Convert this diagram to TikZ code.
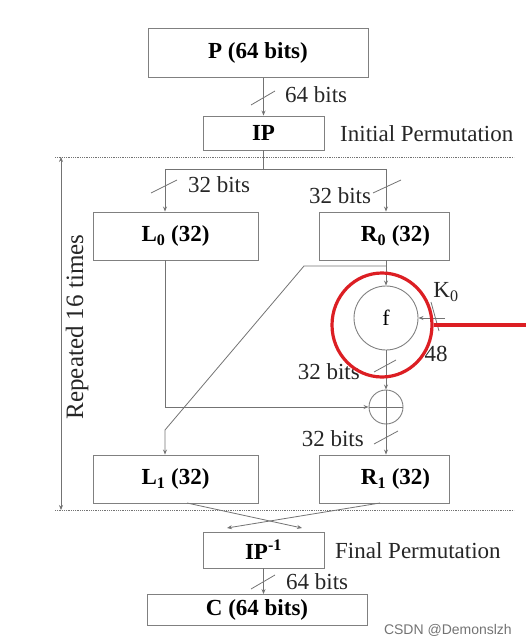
\documentclass[tikz,border=0pt]{standalone}
\usepackage{fontspec}
\setmainfont{Liberation Serif}
\newfontfamily\wmfont{Liberation Sans}
\usetikzlibrary{arrows.meta,shapes.geometric}
\definecolor{ln}{gray}{0.45}
\definecolor{bx}{gray}{0.5}
\definecolor{annred}{RGB}{220,30,35}
\begin{document}
\begin{tikzpicture}[x=1pt,y=-1pt,
  box/.style={draw=bx,line width=0.9pt,fill=white,inner sep=0pt,font=\fontsize{23}{25}\selectfont\bfseries},
  lbl/.style={inner sep=0pt,font=\fontsize{23}{25}\selectfont,text=black!85},
  conn/.style={draw=ln,line width=0.8pt},
  arr/.style={conn,-{Stealth[length=5pt,width=4pt]}},
  slash/.style={draw=ln,line width=0.8pt},
  sepline/.style={draw=ln,line width=0.8pt,densely dotted}]
\useasboundingbox (0,0) rectangle (526,644);
% boxes
\node[box,minimum width=220pt,minimum height=49pt] (P) at (258,53) {P (64 bits)};
\node[box,minimum width=121pt,minimum height=34pt] (IP) at (263.5,133) {IP};
\node[lbl,anchor=west] (ipl) at (340,134) {Initial Permutation};
\node[box,minimum width=165pt,minimum height=48pt] (L0) at (175.5,236) {L\textsubscript{0} (32)};
\node[box,minimum width=130pt,minimum height=48pt] (R0) at (384,236) {\quad R\textsubscript{0} (32)};
\node[box,minimum width=165pt,minimum height=48pt] (L1) at (175.5,479) {L\textsubscript{1} (32)};
\node[box,minimum width=130pt,minimum height=48pt] (R1) at (384,479) {\quad R\textsubscript{1} (32)};
\node[box,minimum width=121pt,minimum height=36pt] (IPi) at (263.5,550) {IP\textsuperscript{-1}};
\node[lbl,anchor=west] (fpl) at (335,551) {Final Permutation};
\node[box,minimum width=220pt,minimum height=31pt] (C) at (257,610) {C (64 bits)};
\node[draw=bx,line width=0.9pt,circle,minimum size=64pt,inner sep=0pt,font=\fontsize{22}{24}\selectfont] (f) at (386,318) {f};
\node[draw=bx,line width=0.9pt,circle,minimum size=34pt,inner sep=0pt] (x) at (386,407) {};
\draw[conn] (x.north) -- (x.south) (x.west) -- (x.east);
% dashed separators and repeat arrow
\coordinate (dt1) at (55,157); \coordinate (dt2) at (514,157);
\coordinate (db1) at (55,510); \coordinate (db2) at (514,510);
\draw[sepline] (dt1) -- (dt2);
\draw[sepline] (db1) -- (db2);
\coordinate (ra) at (61,157); \coordinate (rb) at (61,510);
\draw[conn,{Stealth[length=5pt,width=4pt]}-{Stealth[length=5pt,width=4pt]}] (ra) -- (rb);
\node[lbl,rotate=90,font=\fontsize{25}{27}\selectfont] (rep) at (77,327) {Repeated 16 times};
% P -> IP
\draw[arr] (P.south -| IP.north) -- (IP.north);
\coordinate (s1a) at (251,105); \coordinate (s1b) at (275,91);
\draw[slash] (s1a) -- (s1b);
\node[lbl,anchor=west] (b64a) at (285,95) {64 bits};
% IP split
\coordinate (sp) at (263.5,169);
\coordinate (spl) at (165,169);
\coordinate (spr) at (386,169);
\draw[conn] (IP.south) -- (sp);
\draw[conn] (spl) -- (spr);
\draw[arr] (spl) -- (spl |- L0.north);
\draw[arr] (spr) -- (spr |- R0.north);
\coordinate (s2a) at (151,193); \coordinate (s2b) at (177,180);
\draw[slash] (s2a) -- (s2b);
\node[lbl] (b32a) at (219,185) {32 bits};
\coordinate (s3a) at (373,193); \coordinate (s3b) at (401,180);
\draw[slash] (s3a) -- (s3b);
\node[lbl] (b32b) at (340,196) {32 bits};
% R0 -> f and R0 -> L1
\coordinate (rt) at (386,266);
\draw[arr] (rt |- R0.south) -- (f.north);
\coordinate (rk) at (304,266);
\coordinate (rd) at (165,430);
\draw[arr] (rt) -- (rk) -- (rd) -- (rd |- L1.north);
% L0 -> xor
\coordinate (lk) at (165,407);
\draw[arr] (lk |- L0.south) -- (lk) -- (x.west);
% f -> xor
\draw[arr] (f.south) -- (x.north);
\coordinate (s4a) at (374,372); \coordinate (s4b) at (396,360);
\draw[slash] (s4a) -- (s4b);
\node[lbl,anchor=east] (b32c) at (360,372) {32 bits};
% xor -> R1
\draw[arr] (x.south) -- (x.south |- R1.north);
\coordinate (s5a) at (374,444); \coordinate (s5b) at (398,431);
\draw[slash] (s5a) -- (s5b);
\node[lbl,anchor=east] (b32d) at (364,439) {32 bits};
% K0
\coordinate (k0) at (445,318);
\draw[arr] (k0) -- (f.east);
\coordinate (s6a) at (431,302); \coordinate (s6b) at (439,331);
\draw[slash] (s6a) -- (s6b);
\node[lbl] (k0l) at (446,292) {K\textsubscript{0}};
\node[lbl] (n48) at (436,354) {48};
% cross to IP^-1
\coordinate (cl) at (187,503); \coordinate (cr) at (380,503);
\coordinate (el) at (227,528); \coordinate (er) at (302,528);
\draw[arr] (cl) -- (er);
\draw[arr] (cr) -- (el);
% IP^-1 -> C
\draw[arr] (IPi.south) -- (IPi.south |- C.north);
\coordinate (s7a) at (251,589); \coordinate (s7b) at (275,575);
\draw[slash] (s7a) -- (s7b);
\node[lbl,anchor=west] (b64b) at (286,582) {64 bits};
% annotation
\node[draw=annred,line width=3.2pt,ellipse,minimum width=100pt,minimum height=104pt,inner sep=0pt] (red) at (382,325) {};
\coordinate (redend) at (526,325);
\draw[annred,line width=3.2pt] (red.east) -- (redend);
\node[inner sep=0pt,anchor=east,font=\wmfont\fontsize{14}{16}\selectfont,text=black!55] (wm) at (512,630) {CSDN @Demonslzh};
\end{tikzpicture}
\end{document}
